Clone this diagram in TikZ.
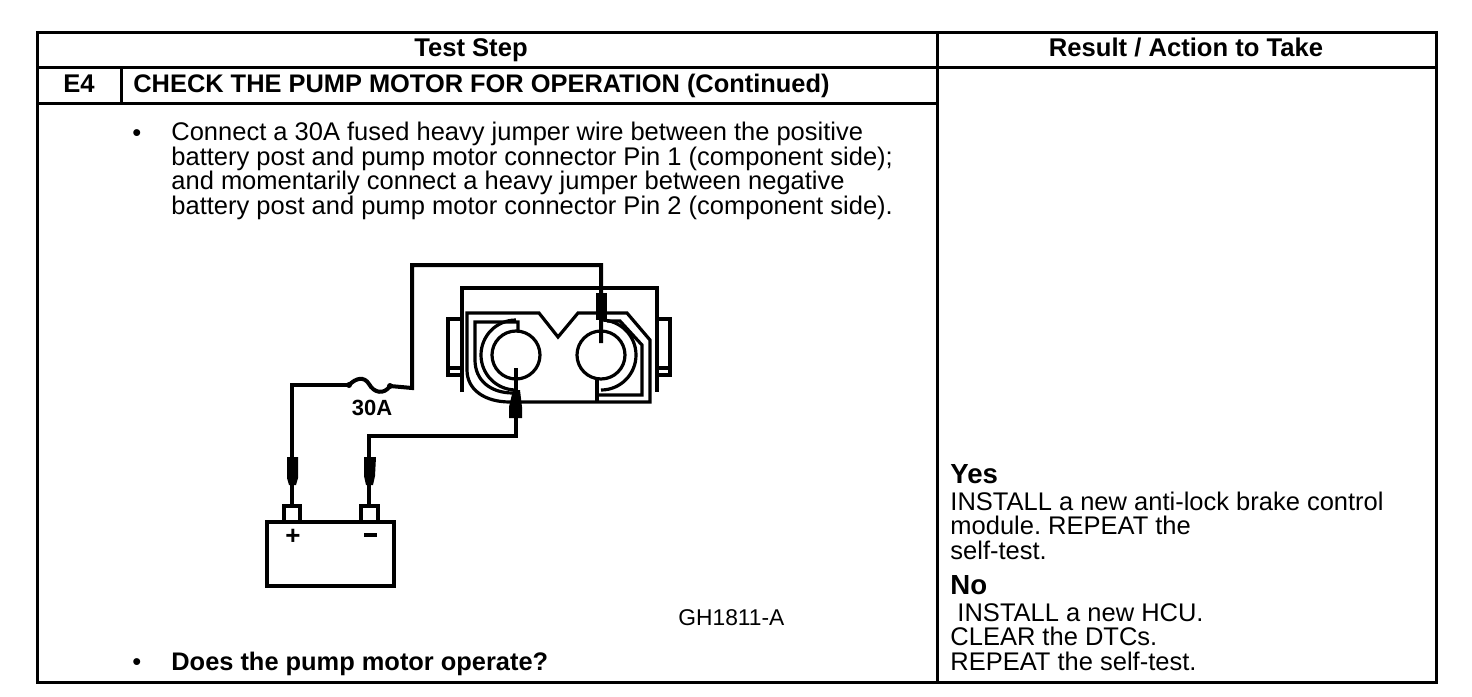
\documentclass[tikz,border=0pt]{standalone}
\usepackage{fontspec}
\setmainfont{Liberation Sans}
\frenchspacing
\tikzset{
  rule/.style={line width=1.5pt},
  part/.style={line width=1.6pt},
  wire/.style={line width=2pt},
  body/.style={anchor=base west,inner sep=0pt,font=\fontsize{12.75}{12.25}\selectfont,align=left},
  heading/.style={anchor=base,inner sep=0pt,font=\fontsize{12.8}{12.25}\selectfont\bfseries}
}
\begin{document}
\begin{tikzpicture}[x=0.5pt,y=-0.5pt]

    % --- Page ---
    \useasboundingbox (0,0) rectangle (1472,696);

    % --- Table ---
    \coordinate (TL) at (37,32);
    \coordinate (BR) at (1436,682);
    \draw[rule] (TL) rectangle (BR);
    \draw[rule] (37,67) -- (1436,67);
    \draw[rule] (37,103) -- (937,103);
    \draw[rule] (937,32) -- (937,682);
    \draw[rule] (121,67) -- (121,103);

    % --- Table text ---
    \node[heading] (stephead) at (471,56) {Test Step};
    \node[heading] (resulthead) at (1186,56) {Result / Action to Take};
    \node[heading] (stepno) at (79,92) {E4};
    \node[body,font=\fontsize{12.7}{12.25}\selectfont\bfseries] (title) at (133,92) {CHECK THE PUMP MOTOR FOR OPERATION (Continued)};
    \node[body] (bullet1) at (132,141) {•};
    % base of a multi-line node is its last line
    \node[body] (connect) at (171,214) {Connect a 30A fused heavy jumper wire between the positive\\
      battery post and pump motor connector Pin 1 (component side);\\
      and momentarily connect a heavy jumper between negative\\
      battery post and pump motor connector Pin 2 (component side).};
    \node[body] (bullet2) at (132,670) {•};
    \node[body,font=\fontsize{12.7}{12.25}\selectfont\bfseries] (question) at (171,670) {Does the pump motor operate?};
    \node[body,font=\fontsize{11.4}{12}\selectfont] (partno) at (678,625) {GH1811-A};

    % --- Result text ---
    \node[body,font=\fontsize{13.8}{13}\selectfont\bfseries] (yes) at (950,483) {Yes};
    \node[body] (yestext) at (950,559) {INSTALL a new anti-lock brake control\\
      module. REPEAT the\\
      self-test.};
    \node[body,font=\fontsize{13.8}{13}\selectfont\bfseries] (no) at (950,594) {No};
    \node[body] (notext) at (950,670) {\ INSTALL a new HCU.\\
      CLEAR the DTCs.\\
      REPEAT the self-test.};

    % --- Connector housing ---
    \draw[part] (462,392) -- (462,288) -- (657,288) -- (657,392);
    \draw[part] (462,319) -- (448,319) -- (448,375) -- (462,375);
    \draw[part] (448,368) -- (462,368);
    \draw[part] (657,319) -- (670,319) -- (670,375) -- (657,375);
    \draw[part] (657,368) -- (670,368);
    \draw[part] (467,370) -- (467,313) -- (539,313) -- (558,337) -- (578,313)
      -- (627,313) -- (650,340) -- (650,402) -- (510,402)
      .. controls (485,402) and (467,390) .. (467,370);
    \draw[part] (518,332) -- (518,322) -- (475,322) -- (475,360)
      .. controls (475,380) and (490,393) .. (513,393);

    % --- Pin sockets ---
    \coordinate (PinL) at (516,355);
    \coordinate (PinR) at (601,355);
    \draw[part] (PinL) circle (24);
    \draw[part] (PinR) circle (24);
    \draw[part] (516,320) arc (-90:-270:35);
    \draw[part] (601,320) arc (-90:90:35);
    \draw[part] (597,380) -- (597,402);
    \draw[part] (607,321) -- (620,321) -- (642,345) -- (642,395) -- (597,395);

    % --- Battery ---
    \coordinate (PosPost) at (292,506);
    \coordinate (NegPost) at (369,506);
    \draw[wire] (267,522) rectangle (394,586);
    \draw[wire] (284,522) rectangle (300,506);
    \draw[wire] (361,522) rectangle (378,506);
    \node[inner sep=0pt,font=\bfseries\fontsize{13}{13}\selectfont] (plus) at (293,537) {+};
    \draw[wire] (364,535) -- (377,535);

    % --- Wires ---
    \coordinate (FuseA) at (349,385);
    \coordinate (FuseB) at (390,386);
    \draw[wire] (PosPost) -- (292,385) -- (FuseA);
    \draw[wire] (FuseA) .. controls (356,378) and (364,376) .. (369,384)
      .. controls (374,393) and (384,395) .. (FuseB);
    \fill (FuseA) circle (3);
    \fill (FuseB) circle (3);
    \draw[wire] (FuseB) -- (412,388) -- (412,265) -- (601,265) -- (601,343);
    \draw[wire] (NegPost) -- (369,436) -- (516,436) -- (516,368);
    \node[inner sep=0pt,font=\fontsize{11}{12}\selectfont\bfseries] (fuselabel) at (372,408) {30A};

    % --- Clips ---
    \fill (287,457) -- (298,457) -- (298,478) -- (296,485) -- (289,485) -- (287,478) -- cycle;
    \fill (364,457) -- (376,457) -- (375,476) -- (373,485) -- (366,485) -- (364,476) -- cycle;
    \fill (596,293) rectangle (607,320);
    \fill (509,418) -- (522,418) -- (522,407) -- (520,390) -- (513,390) -- (509,407) -- cycle;

\end{tikzpicture}
\end{document}
